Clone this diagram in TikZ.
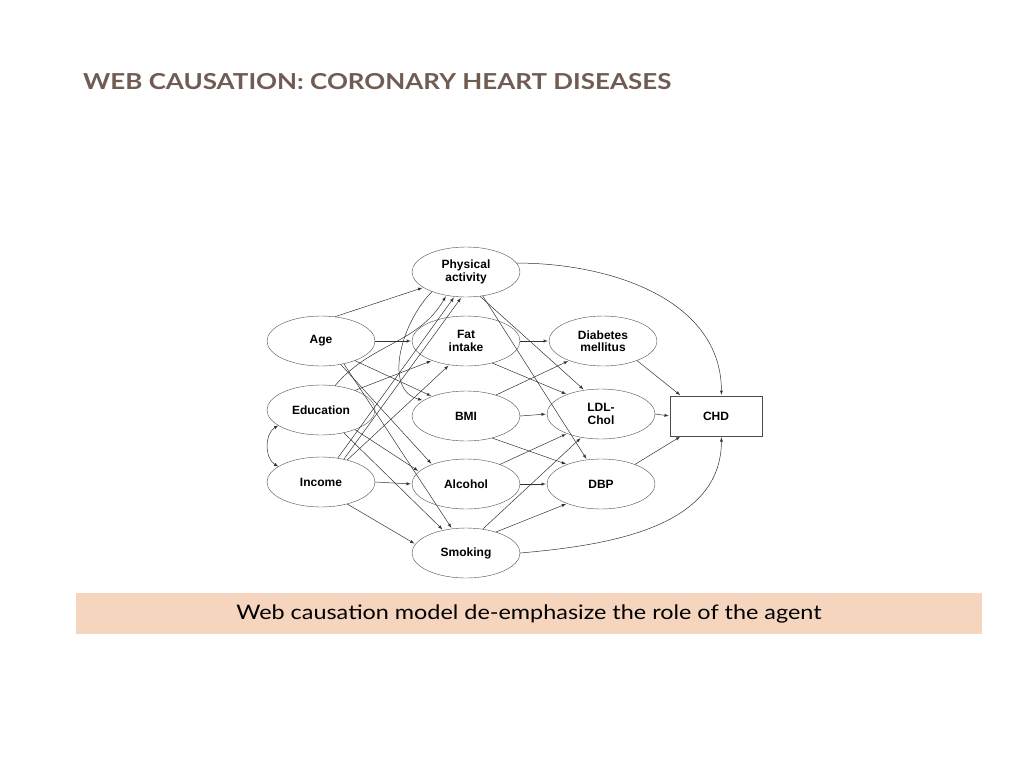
\documentclass[tikz,border=0pt]{standalone}
\usepackage{fontspec}
\setmainfont{Lato}
\newfontfamily\arialf{Liberation Sans}
\usetikzlibrary{shapes.geometric,arrows}
\definecolor{titlec}{RGB}{112,92,82}
\definecolor{bandc}{RGB}{245,213,190}
\begin{document}
\begin{tikzpicture}[x=1pt,y=-1pt,
  ell/.style={draw=black!70,ellipse,minimum width=108pt,minimum height=50pt,inner sep=0pt,font=\arialf\bfseries\fontsize{12}{12.5}\selectfont,align=center},
  ar/.style={-latex,black!80,line width=0.5pt,shorten >=1pt}]
\useasboundingbox (0,0) rectangle (1024,768);
\node[anchor=west,font=\bfseries\fontsize{22}{24}\selectfont,text=titlec,transform shape,xscale=1.18] (title) at (79,82) {WEB CAUSATION: CORONARY HEART DISEASES};
\fill[bandc] (76,593) rectangle (982,634);
\node[font=\fontsize{20}{22}\selectfont,transform shape,xscale=1.17] (cap) at (529,614) {Web causation model de-emphasize the role of the agent};

\node[ell] (phys) at (466,272) {Physical\\activity};
\node[ell] (age) at (321,341) {Age};
\node[ell] (fat) at (466,341) {Fat\\intake};
\node[ell] (diab) at (603,341) {Diabetes\\mellitus};
\node[ell] (edu) at (321,410) {Education};
\node[ell] (bmi) at (466,416) {BMI};
\node[ell] (ldl) at (601,414) {LDL-\\Chol};
\node[draw=black!70,minimum width=92pt,minimum height=40pt,font=\arialf\bfseries\fontsize{12}{12.5}\selectfont] (chd) at (716,416) {CHD};
\node[ell] (inc) at (321,482) {Income};
\node[ell] (alc) at (466,484) {Alcohol};
\node[ell] (dbp) at (601,484) {DBP};
\node[ell] (smk) at (466,553) {Smoking};

% left column
\draw[ar] (age.60) -- (phys.200);
\draw[ar] (age.east) -- (fat.west);
\draw[ar] (age.-30) -- (bmi.150);
\draw[ar] (age.-50) -- (alc.150);
\draw[ar] (age.-45) -- (smk.120);
\draw[ar] (edu.60) to[out=50,in=-120] (phys.-130);
\draw[ar] (edu.30) -- (fat.-150);
\draw[ar] (edu.-30) -- (alc.165);
\draw[ar] (edu.-45) -- (smk.135);
\draw[latex-latex,black!80,line width=0.5pt] (edu.200) to[out=-150,in=150] (inc.160);
\draw[ar] (inc.55) -- (phys.-115);
\draw[ar] (inc.45) -- (phys.-100);
\draw[ar] (inc.40) -- (fat.-125);
\draw[ar] (inc.east) -- (alc.west);
\draw[ar] (inc.-40) -- (smk.170);
\draw[ar] (phys.-150) to[out=-135,in=165] (bmi.160);
% middle
\draw[ar] (phys.-60) -- (ldl.125);
\draw[ar] (phys.-55) -- (dbp.120);
\draw[ar] (phys.10) to[out=0,in=90] (chd.75);
\draw[ar] (fat.east) -- (diab.west);
\draw[ar] (fat.-40) -- (ldl.150);
\draw[ar] (bmi.35) -- (diab.-150);
\draw[ar] (bmi.east) -- (ldl.west);
\draw[ar] (bmi.-40) -- (dbp.150);
\draw[ar] (alc.30) -- (ldl.-150);
\draw[ar] (alc.east) -- (dbp.west);
\draw[ar] (smk.55) -- (ldl.-130);
\draw[ar] (smk.35) -- (dbp.-150);
\draw[ar] (smk.east) to[out=5,in=-90] (chd.-75);
\draw[ar] (diab.-30) -- (chd.150);
\draw[ar] (ldl.east) -- (chd.west);
\draw[ar] (dbp.30) -- (chd.-150);
\end{tikzpicture}
\end{document}
